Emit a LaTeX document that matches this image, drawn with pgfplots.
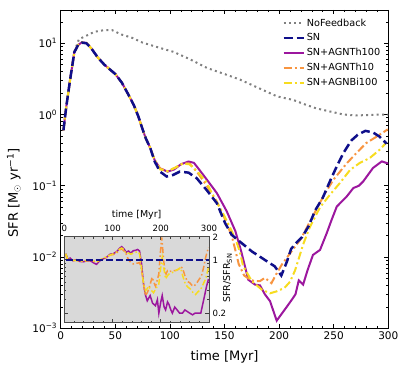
\documentclass[border=0pt]{standalone}
\usepackage{pgfplots}
\pgfplotsset{compat=1.18}
\usepackage{fontspec}
\setmainfont{DejaVu Sans}
\definecolor{cnof}{HTML}{808080}
\definecolor{csn}{HTML}{0F0F8A}
\definecolor{cth100}{HTML}{9C179E}
\definecolor{cth10}{HTML}{F89540}
\definecolor{cbi}{HTML}{F7DC1F}
\definecolor{insetbg}{HTML}{D9D9D9}
\begin{document}
\begin{tikzpicture}
\useasboundingbox (-60.7pt,-42.7pt) rectangle (346.3pt,328.3pt);
\begin{axis}[
  at={(0pt,0pt)}, anchor=south west, scale only axis,
  width=327.6pt, height=318.3pt,
  xmin=0, xmax=300, ymin=1e-3, ymax=29.3, ymode=log,
  xtick={0,50,100,150,200,250,300}, minor x tick num=4,
  ytick={0.001,0.01,0.1,1,10},
  yticklabels={10\textsuperscript{−3},10\textsuperscript{−2},10\textsuperscript{−1},10\textsuperscript{0},10\textsuperscript{1}},
  minor ytick={0.002,0.003,0.004,0.005,0.006,0.007,0.008,0.009,0.02,0.03,0.04,0.05,0.06,0.07,0.08,0.09,0.2,0.3,0.4,0.5,0.6,0.7,0.8,0.9,2,3,4,5,6,7,8,9,20},
  /pgf/number format/assume math mode=true,
  tick label style={font=\fontsize{10.5}{12}\selectfont},
  every axis x label/.style={at={(rel axis cs:0.5,-0.09)}, anchor=center, font=\fontsize{13}{15}\selectfont},
  every axis y label/.style={at={(rel axis cs:-0.143,0.425)}, anchor=center, rotate=90, font=\fontsize{13}{15}\selectfont},
  xlabel={time [Myr]}, ylabel={SFR [M$_\odot$ yr\textsuperscript{−1}]},
  major tick length=4pt, minor tick length=2.5pt,
  every tick/.style={black, line width=0.6pt},
  axis line style={line width=0.8pt},
  legend style={at={(rel axis cs:0.985,0.982)}, anchor=north east, draw=none, fill=none,
    font=\fontsize{9.7}{11}\selectfont, row sep=2pt, inner sep=1pt},
  legend cell align=left,
  legend image code/.code={\draw[#1] (0pt,0pt) -- (20pt,0pt);},
]
\addplot[cnof, line width=2pt, dash pattern=on 2pt off 3.3pt] coordinates {
(2.5,0.6) (5,1.25) (8.5,3.0) (12.5,7.6) (16.7,11.4) (25,13.1) (31,14.5) (40,15.3) (47,15.3) (56,13.2) (65,12) (75,10.2) (92,8.5) (103,7.6) (118,6.0) (134,4.5) (150,3.7) (164,3.1) (180,2.4) (198,1.8) (213,1.6) (224,1.38) (234,1.22) (247,1.1) (259,1.0) (271,0.97) (285,0.99) (300,1.0)};
\addlegendentry{NoFeedback}
\addlegendimage{csn, line width=2.5pt, dash pattern=on 9pt off 4pt}
\addlegendentry{SN}
\addplot[cth100, line width=2pt] coordinates {
(2.5,0.6) (5,1.25) (8.5,3.0) (12.5,7.5) (16,9.5) (19.5,10.3) (23.5,10.1) (28,8.5) (34,6.3) (40,5.0) (45,4.3) (50,3.7) (56,2.8) (62,1.9) (67,1.35) (71,0.95) (75,0.62) (78,0.46) (82,0.34) (86,0.23)
(91,0.175) (98,0.158) (104,0.17) (110,0.2) (117,0.219) (122,0.21) (128,0.16) (134,0.121) (143,0.079) (152,0.044) (160,0.023) (165.7,0.0114) (171.8,0.0048) (178,0.0041) (182.5,0.004) (187,0.003) (191.7,0.0024) (197.8,0.00128) (202.4,0.0016) (207,0.002) (211.5,0.0025) (215,0.003) (218,0.0047) (222,0.0041) (226,0.0065) (231,0.0107) (237.5,0.0126) (243.6,0.0216) (248,0.033) (252.8,0.051) (262,0.071) (268,0.093) (273,0.1) (277,0.115) (286,0.178) (294,0.22) (300,0.205)};
\addlegendentry{SN+AGNTh100}
\addplot[cth10, line width=2pt, dash pattern=on 8pt off 3pt on 2pt off 3pt] coordinates {
(2.5,0.6) (5,1.25) (8.5,3.0) (12.5,7.5) (16,9.5) (19.5,10.3) (23.5,10.1) (28,8.5) (34,6.3) (40,5.0) (45,4.3) (50,3.7) (56,2.8) (62,1.9) (67,1.35) (71,0.95) (75,0.62) (78,0.46) (82,0.34) (86,0.23)
(91,0.175) (98,0.16) (105,0.18) (112,0.207) (118,0.205) (125,0.155) (132,0.11) (143,0.06) (152,0.03) (157,0.019) (163,0.008) (168,0.0055) (172,0.005) (177,0.0046) (182.5,0.0046) (187,0.0051) (193,0.0043) (197.8,0.0059) (202.4,0.0078) (211,0.0118) (220,0.018) (229,0.033) (240.5,0.071) (249.6,0.121) (262,0.207) (271,0.29) (280,0.40) (289.4,0.49) (299.5,0.62)};
\addlegendentry{SN+AGNTh10}
\addplot[cbi, line width=2pt, dash pattern=on 8pt off 3pt on 2pt off 3pt] coordinates {
(2.5,0.6) (5,1.25) (8.5,3.0) (12.5,7.5) (16,9.5) (19.5,10.3) (23.5,10.1) (28,8.5) (34,6.3) (40,5.0) (45,4.3) (50,3.7) (56,2.8) (62,1.9) (67,1.35) (71,0.95) (75,0.62) (78,0.46) (82,0.34) (86,0.23)
(91,0.17) (98,0.16) (105,0.18) (112,0.205) (118,0.2) (125,0.16) (133,0.115) (140,0.071) (149,0.04) (155,0.026) (160,0.018) (164,0.012) (167,0.0075) (175,0.0046) (184,0.0035) (191.7,0.0031) (197.8,0.0033) (205,0.0037) (210,0.0045) (214.6,0.0065) (218,0.0095) (222,0.015) (228,0.026) (237.5,0.05) (246.6,0.075) (255.8,0.11) (265,0.167) (274,0.21) (283,0.245) (292,0.32) (298,0.40)};
\addlegendentry{SN+AGNBi100}
\addplot[csn, line width=2.5pt, dash pattern=on 9pt off 4pt, forget plot] coordinates {
(2.5,0.6) (5,1.25) (8.5,3.0) (12.5,7.5) (16,9.5) (19.5,10.2) (23.5,10) (28,8.5) (34,6.3) (40,5.0) (45,4.3) (50,3.7) (56,2.8) (62,1.9) (67,1.35) (71,0.95) (75,0.62) (78,0.46) (82,0.34) (86,0.22) (91,0.158) (97,0.135) (103,0.142) (109,0.158) (117,0.153) (124.5,0.128) (133.7,0.087) (143,0.057) (150.5,0.03) (156.6,0.0205) (164,0.0165) (175,0.012) (187,0.0091) (196,0.0074) (202,0.0055) (207,0.0085) (211,0.013) (216,0.016) (221,0.019) (227,0.027) (233,0.045) (240,0.068) (247,0.12) (253,0.19) (259,0.29) (266,0.43) (272,0.52) (279,0.59) (286,0.56) (292,0.49) (298.5,0.39)};
\end{axis}
\begin{axis}[
  at={(3.6pt,5.6pt)}, anchor=south west, scale only axis,
  width=144.7pt, height=86pt,
  xmin=0, xmax=300, ymin=0.15, ymax=2, ymode=log,
  axis background/.style={fill=insetbg},
  xtick={0,100,200,300}, minor x tick num=4,
  ytick={0.2,1,2}, yticklabels={0.2,1,2},
  minor ytick={0.3,0.4,0.5,0.6,0.7,0.8,0.9},
  xticklabel pos=upper, yticklabel pos=right,
  /pgf/number format/assume math mode=true,
  tick label style={font=\fontsize{8.6}{10}\selectfont},
  xticklabel style={yshift=1.5pt},
  yticklabel style={yshift=-0.5pt},
  every axis x label/.style={at={(rel axis cs:0.5,1.25)}, anchor=center, font=\fontsize{9.5}{11}\selectfont},
  every axis y label/.style={at={(rel axis cs:1.128,0.52)}, anchor=center, rotate=90, font=\fontsize{9.5}{11}\selectfont},
  xlabel={time [Myr]}, ylabel={SFR/SFR\textsubscript{SN}},
  major tick length=3.5pt, minor tick length=2pt,
  every tick/.style={black!75, line width=0.6pt},
  axis line style={black!70, line width=0.8pt},
]
\addplot[cth100, line width=1.5pt] coordinates {
(3,1.2) (8,1.0) (12,1.05) (18,0.97) (25,1.0) (32,0.95) (40,0.94) (48,0.97) (55,0.96) (62,0.9) (67,0.87) (72,0.95) (80,1.02) (88,1.08) (95,1.18) (102,1.2) (110,1.3) (115,1.42) (119,1.48) (124,1.38) (128,1.25) (133,1.3) (138,1.22) (143,1.31) (148,1.33) (152,1.36) (156,1.3) (160,0.9) (164,0.5) (168,0.35) (172,0.29) (178,0.34) (183,0.27) (189,0.25) (193,0.3) (196,0.2) (200,0.28) (203,0.34) (207,0.24) (210,0.22) (214,0.28) (217,0.26) (221,0.22) (224,0.2) (229,0.24) (234,0.22) (239,0.2) (245,0.2) (250,0.22) (255,0.21) (260,0.2) (266,0.19) (271,0.2) (276,0.2) (283,0.2) (290,0.32) (295,0.45) (299,0.56)};
\addplot[cth10, line width=1.5pt, dash pattern=on 6pt off 2.5pt on 1.5pt off 2.5pt] coordinates {
(3,1.15) (8,0.95) (12,1.0) (18,0.97) (25,0.98) (32,0.96) (40,0.95) (48,0.97) (55,0.98) (62,0.95) (67,0.95) (72,0.97) (80,1.02) (88,1.07) (95,1.15) (102,1.17) (110,1.25) (115,1.35) (119,1.38) (124,1.3) (128,1.2) (133,1.0) (138,0.92) (143,0.88) (148,0.9) (152,0.9) (156,0.92) (160,0.75) (164,0.5) (168,0.34) (172,0.37) (175,0.41) (179,0.5) (182,0.59) (186,0.5) (189,0.45) (193,0.55) (196,0.65) (199,1.2) (202,1.95) (204,1.4) (206,0.97) (209,0.7) (211,0.65) (214,0.72) (218,0.7) (224,0.72) (230,0.72) (237,0.75) (242,0.8) (245,0.78) (250,0.62) (255,0.52) (260,0.5) (265,0.46) (269,0.45) (275,0.5) (280,0.56) (284,0.6) (289,0.8) (293,1.07) (296,1.25) (299,1.45)};
\addplot[cbi, line width=1.5pt, dash pattern=on 6pt off 2.5pt on 1.5pt off 2.5pt] coordinates {
(3,1.2) (8,0.97) (12,1.02) (18,0.98) (25,0.98) (32,0.96) (40,0.96) (48,0.98) (55,0.98) (62,0.95) (67,0.93) (72,0.98) (80,1.04) (88,1.1) (95,1.15) (102,1.2) (110,1.28) (115,1.38) (119,1.42) (124,1.35) (128,1.2) (133,1.22) (138,1.18) (143,1.22) (148,1.25) (152,1.28) (156,1.2) (160,0.8) (164,0.5) (168,0.39) (172,0.42) (175,0.45) (180,0.4) (185,0.37) (190,0.42) (196,0.48) (200,0.8) (203,1.07) (206,0.8) (210,0.56) (214,0.62) (217,0.65) (224,0.68) (231,0.72) (236,0.75) (241,0.79) (246,0.6) (251,0.48) (256,0.44) (262,0.41) (267,0.37) (272,0.35) (277,0.38) (283,0.41) (288,0.48) (293,0.56) (299,0.79)};
\addplot[csn, line width=1.8pt, dash pattern=on 7pt off 3pt] coordinates {(3,1) (299,1)};
\end{axis}
\end{tikzpicture}
\end{document}
